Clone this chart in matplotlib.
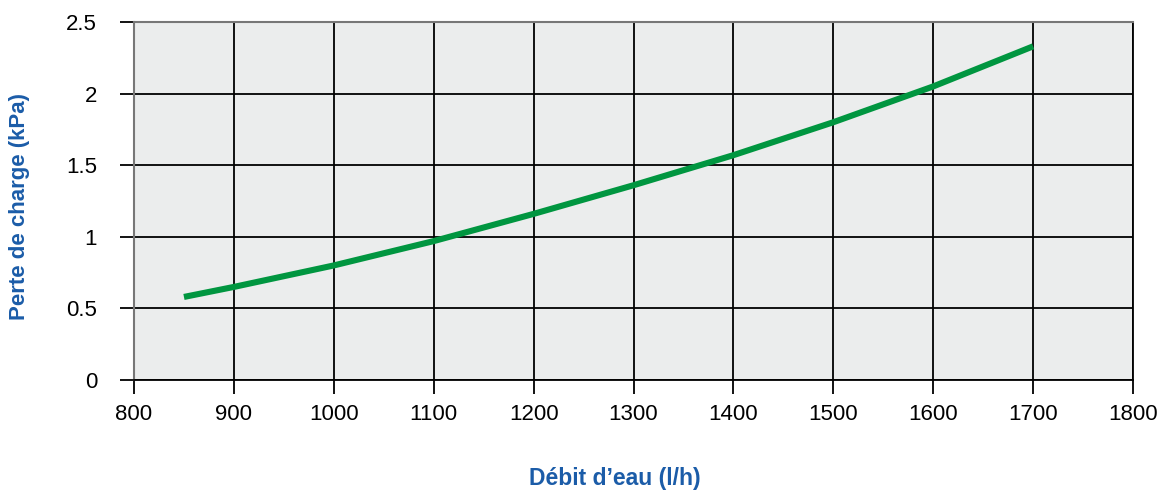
import numpy as np
import matplotlib.pyplot as plt

plt.rcParams['font.family'] = ['Liberation Sans', 'DejaVu Sans']

# perte de charge en fonction du débit
debit = [850, 900, 1000, 1100, 1200, 1300, 1400, 1500, 1600, 1700]
perte = [0.58, 0.65, 0.80, 0.97, 1.16, 1.36, 1.57, 1.80, 2.05, 2.33]

xticks = [800, 900, 1000, 1100, 1200, 1300, 1400, 1500, 1600, 1700, 1800]
yticks = [0, 0.5, 1, 1.5, 2, 2.5]
yticklabels = ['0', '0.5', '1', '1.5', '2', '2.5']

bleu = '#1b5ca8'
vert = '#009640'

fig = plt.figure(figsize=(11.66, 4.95), dpi=100)
ax = fig.add_axes([134/1166, 1 - 380/495, (1133 - 134)/1166, (380 - 22)/495])
ax.set_facecolor('#ebeded')

ax.plot(debit, perte, color=vert, lw=4.4, solid_capstyle='butt', zorder=3)

ax.set_xlim(800, 1800)
ax.set_ylim(0, 2.5)
ax.set_xticks(xticks)
ax.set_yticks(yticks)
ax.set_yticklabels(yticklabels)
ax.grid(True, color='black', lw=1.3, zorder=1)
ax.set_axisbelow(True)
ax.tick_params(axis='both', length=10, width=1.3, color='black',
               labelcolor='black', labelsize=16)
ax.tick_params(axis='x', pad=7.5)
ax.tick_params(axis='y', pad=16.5)
for s in ['left', 'top']:
    ax.spines[s].set_color('#777777')
    ax.spines[s].set_linewidth(1.5)
for s in ['right', 'bottom']:
    ax.spines[s].set_color('black')
    ax.spines[s].set_linewidth(1.3)

fig.text(615/1166, 1 - 479/495, 'Débit d’eau (l/h)', color=bleu,
         fontsize=16.5, fontweight='bold', ha='center', va='center')
fig.text(20/1166, 1 - 207/495, 'Perte de charge (kPa)', color=bleu,
         fontsize=16, fontweight='bold', ha='center', va='center', rotation=90)

fig.savefig('out.png', dpi=100)
